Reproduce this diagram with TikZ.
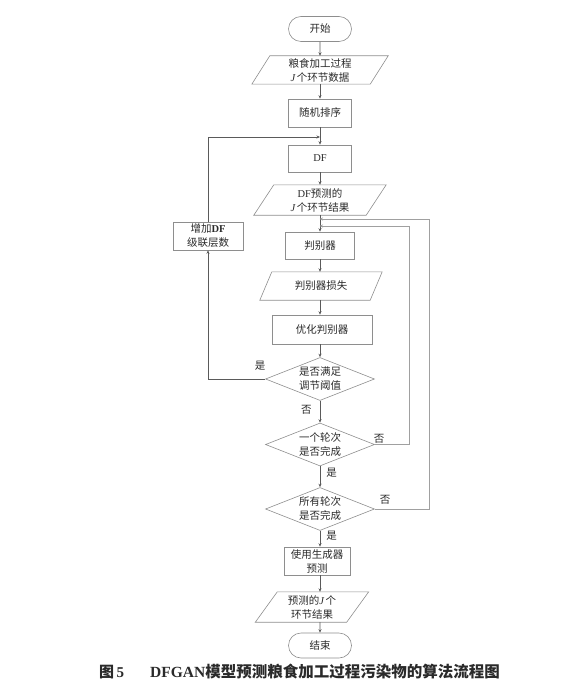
\documentclass[tikz,border=0pt]{standalone}
\usepackage{fontspec}
\setmainfont{Noto Sans CJK SC}
\newfontfamily\lat{Liberation Serif}
\usetikzlibrary{shapes.geometric,shapes.misc,arrows.meta}
\definecolor{linec}{HTML}{5A5A5A}
\definecolor{boxc}{HTML}{8E8E8E}
\definecolor{loopc}{HTML}{A0A0A0}
\definecolor{textc}{HTML}{2A2A2A}
\newcommand\drawpara[2]{\draw[draw=boxc, line width=0.6pt]
  ([xshift=-#2/2]#1.south west) -- ([xshift=-#2/2]#1.south east) --
  ([xshift=#2/2]#1.north east) -- ([xshift=#2/2]#1.north west) -- cycle;}
\begin{document}
\begin{tikzpicture}[x=1pt,y=-1pt,
  every node/.style={text=textc},
  txt/.style={font=\fontsize{10.5}{14}\selectfont, align=center, inner sep=0pt},
  lab/.style={font=\fontsize{10.5}{13}\selectfont, inner sep=0pt},
  boxn/.style={draw=boxc, line width=0.6pt, rectangle, inner sep=0pt, font=\fontsize{10.5}{14}\selectfont, align=center},
  term/.style={draw=boxc, line width=0.6pt, rounded rectangle, inner sep=0pt, minimum width=63, minimum height=25, font=\fontsize{10.5}{14}\selectfont},
  para/.style={rectangle, inner sep=0pt, font=\fontsize{10.5}{14}\selectfont, align=center},
  dia/.style={draw=boxc, line width=0.6pt, diamond, inner sep=0pt, minimum width=109, minimum height=43},
  flow/.style={draw=linec, line width=0.6pt, -{Stealth[length=3.5pt,width=3pt]}},
  loopl/.style={draw=loopc, line width=0.6pt, -{Stealth[length=3.5pt,width=3pt]}, shorten >=-0.5pt},
]
\useasboundingbox (0,0) rectangle (587,687);

% nodes
\node[term] (start) at (320,29) {开始};
\node[para, minimum width=118, minimum height=28] (p1) at (320,70) {粮食加工过程\\{\lat\itshape J}\,个环节数据};
\drawpara{p1}{18}
\node[boxn, minimum width=63, minimum height=28] (sort) at (320,113) {随机排序};
\node[boxn, minimum width=63, minimum height=27] (df) at (320,158.5) {{\lat DF}};
\node[para, minimum width=112, minimum height=30] (p2) at (320,200) {{\lat DF}预测的\\{\lat\itshape J}\,个环节结果};
\drawpara{p2}{20}
\node[boxn, minimum width=70, minimum height=28] (add) at (208,236) {增加{\lat\bfseries DF}\\级联层数};
\node[boxn, minimum width=69, minimum height=27] (disc) at (320,245.5) {判别器};
\node[para, minimum width=110, minimum height=28] (p3) at (321,286) {判别器损失};
\drawpara{p3}{12}
\node[boxn, minimum width=100, minimum height=29] (opt) at (322,329.5) {优化判别器};
\node[dia] (d1) at (320,379) {};
\node[txt] (d1t) at (d1) {是否满足\\调节阈值};
\node[dia] (d2) at (320,444.5) {};
\node[txt] (d2t) at (d2) {一个轮次\\是否完成};
\node[dia] (d3) at (320,509) {};
\node[txt] (d3t) at (d3) {所有轮次\\是否完成};
\node[boxn, minimum width=66, minimum height=28] (gen) at (317,561) {使用生成器\\预测};
\node[para, minimum width=91, minimum height=30] (p4) at (312,607) {预测的{\lat\itshape J}\,个\\环节结果};
\drawpara{p4}{22}
\node[term] (end) at (320,645.5) {结束};

% junction coordinates
\coordinate (j1) at (320,137);
\coordinate (j2) at (320,219);
\coordinate (j3) at (320,226);

% main flow
\draw[flow] (start) -- (start|-p1.north);
\draw[flow] (p1.south-|start) -- (sort);
\draw[flow] (sort) -- (df);
\draw[flow] (df) -- (df|-p2.north);
\draw[flow] (p2.south-|df) -- (disc);
\draw[flow] (disc) -- (disc|-p3.north);
\draw[flow] (p3.south-|disc) -- (disc|-opt.north);
\draw[flow] (opt.south-|disc) -- (d1);
\draw[flow] (d1) -- node[lab, pos=0.4, left=8pt] (no1) {否} (d2);
\draw[flow] (d2) -- node[lab, pos=0.3, right=6pt] (yes2) {是} (d3);
\draw[flow] (d3.south) -- node[lab, pos=0.3, right=6pt] (yes3) {是} (d3|-gen.north);
\draw[flow] (gen.south-|d3) -- (d3|-p4.north);
\draw[flow] (p4.south-|d3) -- (end);

% loops
\draw[flow] (d1.west) -| (add.south);
\node[lab] (yes1) at (260,366) {是};
\draw[flow] (add.north) |- (j1);
\draw[loopl] (d2.east) -- (409,444.5) |- (j3);
\node[lab] (no2) at (379,438.5) {否};
\draw[loopl] (d3.east) -- (429,509) |- (j2);
\node[lab] (no3) at (385,500) {否};

% caption
\node[anchor=west, inner sep=0pt, font=\fontsize{15}{17}\selectfont\bfseries] (cap1) at (99,672) {图\,{\lat 5}};
\node[anchor=west, inner sep=0pt, font=\fontsize{15.5}{17}\selectfont\bfseries] (cap2) at (150,672) {{\lat DFGAN}模型预测粮食加工过程污染物的算法流程图};
\end{tikzpicture}
\end{document}
